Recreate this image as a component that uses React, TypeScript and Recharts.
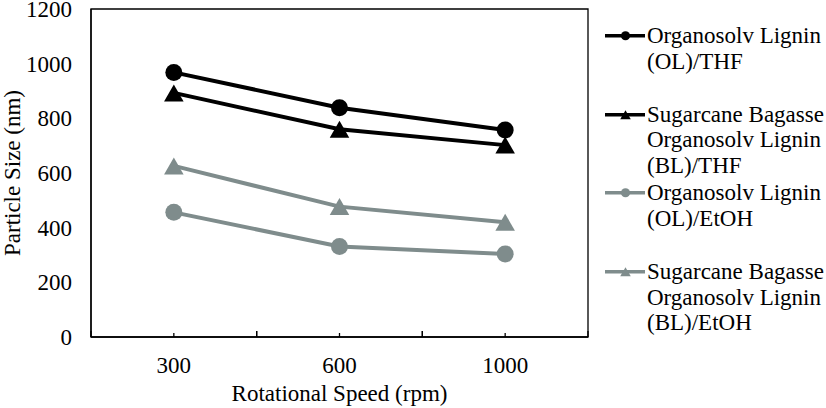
import React from 'react';
import { LineChart, Line, XAxis, YAxis, Legend, ReferenceArea } from 'recharts';

const categories = ['300', '600', '1000'];
const olThf = [968, 839, 757];
const blThf = [893, 760, 702];
const olEtoh = [456, 331, 304];
const blEtoh = [626, 477, 420];
const yTicks = [0, 200, 400, 600, 800, 1000, 1200];
const seriesNames = [
  'Organosolv Lignin (OL)/THF',
  'Sugarcane Bagasse Organosolv Lignin (BL)/THF',
  'Organosolv Lignin (OL)/EtOH',
  'Sugarcane Bagasse Organosolv Lignin (BL)/EtOH',
];
const xTitle = 'Rotational Speed (rpm)';
const yTitle = 'Particle Size (nm)';

const BLACK = '#000000';
const GRAY = '#7f8c8c';
const FONT = 'Liberation Serif';
const FS = 23;

const data = categories.map((c, i) => ({
  rpm: c,
  olThf: olThf[i],
  blThf: blThf[i],
  olEtoh: olEtoh[i],
  blEtoh: blEtoh[i],
}));

const series = [
  { key: 'olThf', name: seriesNames[0], color: BLACK, shape: 'circle' },
  { key: 'blThf', name: seriesNames[1], color: BLACK, shape: 'triangle' },
  { key: 'olEtoh', name: seriesNames[2], color: GRAY, shape: 'circle' },
  { key: 'blEtoh', name: seriesNames[3], color: GRAY, shape: 'triangle' },
];

function Marker({ cx, cy, color, shape, r }: any) {
  if (cx == null || cy == null) return null;
  if (shape === 'circle') return <circle cx={cx} cy={cy} r={r} fill={color} />;
  return (
    <polygon
      points={`${cx},${cy - r} ${cx - r * 1.15},${cy + r} ${cx + r * 1.15},${cy + r}`}
      fill={color}
    />
  );
}

const TICK_SIZE = 6;
const TICK_MARGIN = 14;

function XTick(props: any) {
  const { x, y, payload } = props;
  const axisY = y - TICK_SIZE - TICK_MARGIN;
  const half = payload && payload.offset ? payload.offset : 0;
  return (
    <g>
      <line x1={x} x2={x} y1={axisY} y2={axisY - 4} stroke="#000" strokeWidth={1.3} />
      {half ? <line x1={x - half} x2={x - half} y1={axisY} y2={axisY - 6} stroke="#000" strokeWidth={1.3} /> : null}
      {half ? <line x1={x + half} x2={x + half} y1={axisY} y2={axisY - 6} stroke="#000" strokeWidth={1.3} /> : null}
      <text x={x} y={y + 16} textAnchor="middle" fontSize={FS} style={{ fontFamily: FONT }} fill="#000">
        {payload.value}
      </text>
    </g>
  );
}

function YTitle(props: any) {
  const vb = props.viewBox || {};
  const cx = vb.x + 12;
  const cy = vb.y + vb.height / 2;
  return (
    <text
      x={cx}
      y={cy}
      transform={`rotate(-90, ${cx}, ${cy})`}
      textAnchor="middle"
      dominantBaseline="central"
      fontSize={FS}
      style={{ fontFamily: FONT }}
      fill="#000"
    >
      {yTitle}
    </text>
  );
}

function XTitle(props: any) {
  const vb = props.viewBox || {};
  return (
    <text x={vb.x + vb.width / 2} y={vb.y + 64} textAnchor="middle" fontSize={FS} style={{ fontFamily: FONT }} fill="#000">
      {xTitle}
    </text>
  );
}

function LegendContent() {
  return (
    <div style={{ fontFamily: FONT, fontSize: FS, color: '#000' }}>
      {series.map((s) => (
        <div key={s.key} style={{ display: 'flex', alignItems: 'flex-start', height: 78.7 }}>
          <svg width={44} height={25.5} style={{ flex: 'none' }}>
            <line x1={2} x2={42} y1={12.75} y2={12.75} stroke={s.color} strokeWidth={3.5} />
            <Marker cx={22.5} cy={12.75} r={4.6} color={s.color} shape={s.shape} />
          </svg>
          <div style={{ lineHeight: '25.5px', width: 179, whiteSpace: 'normal' }}>{s.name}</div>
        </div>
      ))}
    </div>
  );
}

export default function App() {
  return (
    <div style={{ fontFamily: FONT }}>
      <style>{'body{margin:0;overflow:hidden;}'}</style>
      <LineChart width={826} height={408} data={data} margin={{ top: 9, right: 238, bottom: 0, left: 0 }} style={{ fontFamily: FONT }}>
        <ReferenceArea y1={0} y2={1200} fill="none" stroke="#000" strokeWidth={1.3} ifOverflow="visible" />
        <XAxis
          dataKey="rpm"
          type="category"
          scale="band"
          height={71}
          axisLine={{ stroke: '#000', strokeWidth: 1.3 }}
          tickLine={false}
          tickSize={TICK_SIZE}
          tickMargin={TICK_MARGIN}
          tick={<XTick />}
          interval={0}
          label={<XTitle />}
        />
        <YAxis
          type="number"
          domain={[0, 1200]}
          ticks={yTicks}
          width={91}
          axisLine={{ stroke: '#000', strokeWidth: 1.3 }}
          tickLine={false}
          tickSize={6}
          tickMargin={13}
          tick={{ fontSize: FS, fill: '#000', style: { fontFamily: FONT } }}
          interval={0}
          label={<YTitle />}
        />
        <Legend
          layout="vertical"
          align="center"
          verticalAlign="middle"
          content={<LegendContent />}
          wrapperStyle={{ left: 603, top: 23, width: 223 }}
        />
        {series.map((s) => (
          <Line
            key={s.key}
            dataKey={s.key}
            name={s.name}
            stroke={s.color}
            strokeWidth={4}
            isAnimationActive={false}
            dot={(p: any) => <Marker key={`${s.key}-${p.index}`} cx={p.cx} cy={p.cy} r={8.5} color={s.color} shape={s.shape} />}
            activeDot={false}
          />
        ))}
      </LineChart>
    </div>
  );
}
